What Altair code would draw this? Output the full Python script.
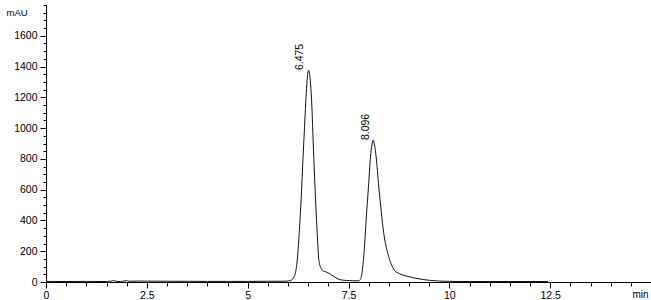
import altair as alt
import pandas as pd

# Chromatogram trace (retention time in min, signal in mAU)
time = [0.0, 0.5, 1.0, 1.5, 1.6, 1.68, 1.75, 1.85, 1.96, 2.0, 2.05, 2.3, 3.0, 4.0,
        5.0, 5.5, 5.9, 6.05, 6.122, 6.18, 6.229, 6.287, 6.33, 6.37, 6.41, 6.452,
        6.48, 6.51, 6.545, 6.576, 6.642, 6.716, 6.766, 6.824, 6.88, 6.947, 7.03,
        7.153, 7.277, 7.442, 7.6, 7.75, 7.789, 7.838, 7.896, 7.937, 7.995, 8.045,
        8.08, 8.111, 8.145, 8.185, 8.251, 8.309, 8.375, 8.474, 8.556, 8.639, 8.762,
        8.928, 9.175, 9.505, 10.0, 10.5, 11.0, 12.0, 12.45]
signal = [4, 3, 4, 3, 5, 9, 4, 3, 8, 9, 5, 6, 5, 4,
          4, 5, 5, 8, 22, 55, 141, 358, 560, 792, 1010, 1225,
          1330, 1377, 1330, 1225, 792, 358, 141, 87, 70, 65, 55,
          33, 16, 10, 8, 8, 15, 65, 228, 401, 618, 813,
          890, 922, 890, 813, 618, 466, 315, 185, 119, 76, 54,
          39, 24, 11, 4, 3, 3, 3, 3]

# Peak annotations
peak_rt = [6.475, 8.096]
peak_height = [1377, 922]
peak_label = ["6.475", "8.096"]

# Axis tick positions
x_major = [0, 2.5, 5, 7.5, 10, 12.5]
x_minor = [0, 0.5, 1, 1.5, 2, 2.5, 3, 3.5, 4, 4.5, 5, 5.5, 6, 6.5, 7, 7.5, 8, 8.5,
           9, 9.5, 10, 10.5, 11, 11.5, 12, 12.5, 13, 13.5, 14, 14.5]
y_major = [0, 200, 400, 600, 800, 1000, 1200, 1400, 1600]
y_minor = [0, 50, 100, 150, 200, 250, 300, 350, 400, 450, 500, 550, 600, 650, 700,
           750, 800, 850, 900, 950, 1000, 1050, 1100, 1150, 1200, 1250, 1300, 1350,
           1400, 1450, 1500, 1550, 1600, 1650, 1700, 1750, 1800]

trace = pd.DataFrame({"t": time, "s": signal})
peaks = pd.DataFrame({"t": peak_rt, "s": peak_height, "lab": peak_label})

FONT = "Liberation Sans"
x_scale = alt.Scale(domain=[0, 15], nice=False, zero=False)
y_scale = alt.Scale(domain=[0, 1800], nice=False)

x_main = alt.X(
    "t:Q", scale=x_scale,
    axis=alt.Axis(
        orient="bottom",
        values=x_major,
        labelExpr="'' + datum.value",
        tickSize=6,
        labelPadding=2,
        labelFlush=False,
        labelOverlap=False,
        labelFont=FONT,
        labelFontSize=10.5,
        labelColor="#000",
        domainColor="#000",
        tickColor="#000",
        grid=False,
        title="min",
        titleFont=FONT,
        titleFontSize=10,
        titleFontWeight="normal",
        titleColor="#000",
        titleAnchor="end",
        titleAlign="right",
        titleAngle=0,
        titleX=602,
        titleY=15,
        titleBaseline="alphabetic",
    ),
)

y_main = alt.Y(
    "s:Q", scale=y_scale,
    axis=alt.Axis(
        orient="left",
        values=y_major,
        tickSize=6,
        labelPadding=3,
        labelOverlap=False,
        labelFont=FONT,
        labelFontSize=10.5,
        labelColor="#000",
        domainColor="#000",
        tickColor="#000",
        grid=False,
        format="d",
        title="mAU",
        titleFont=FONT,
        titleFontSize=9.5,
        titleFontWeight="normal",
        titleColor="#000",
        titleAngle=0,
        titleAlign="left",
        titleX=-40,
        titleY=10,
        titleBaseline="alphabetic",
    ),
)

x_min = alt.X(
    "t:Q", scale=x_scale,
    axis=alt.Axis(orient="bottom", values=x_minor, tickSize=4, labels=False,
                  domain=False, tickColor="#000", grid=False, title=None),
)
y_min = alt.Y(
    "s:Q", scale=y_scale,
    axis=alt.Axis(orient="left", values=y_minor, tickSize=3, labels=False,
                  domain=False, tickColor="#000", grid=False, title=None),
)

line = alt.Chart(trace).mark_line(
    color="#111", strokeWidth=1, interpolate="monotone"
).encode(x=x_main, y=y_main)

labels = alt.Chart(peaks).mark_text(
    angle=270, align="left", baseline="alphabetic", dy=-4,
    font=FONT, fontSize=10.5, color="#000"
).encode(x=x_min, y=y_min, text="lab:N")

chart = alt.layer(line, labels).resolve_axis(
    x="independent", y="independent"
).properties(
    width=605,
    height=277,
    autosize=alt.AutoSizeParams(type="none"),
    padding={"left": 46, "top": 5, "right": 0, "bottom": 18},
    background="white",
).configure_view(stroke=None)

chart.save("out.html", embed_options={"renderer": "svg", "actions": False})
